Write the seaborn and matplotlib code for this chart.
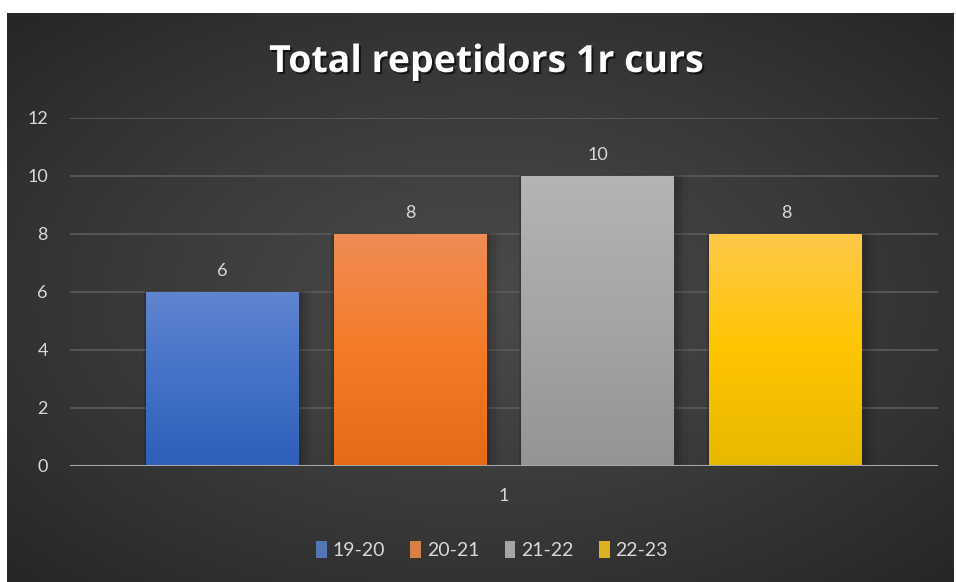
import numpy as np
import pandas as pd
import matplotlib
matplotlib.use('Agg')
import matplotlib.pyplot as plt
import matplotlib.patheffects as pe
from matplotlib.colors import LinearSegmentedColormap
import seaborn as sns

# dades
categoria = ['1']
cursos = ['19-20', '20-21', '21-22', '22-23']
repetidors = [6, 8, 10, 8]
colors = ['#4472c4', '#f07c2a', '#a5a5a5', '#ffc000']
# degradat de cada barra (dalt, mig, baix)
degradats = [
    ['#6185d0', '#4472c8', '#2e5fb9'],
    ['#f08c56', '#f47b27', '#e46b17'],
    ['#b4b4b4', '#a5a5a5', '#949494'],
    ['#ffc84a', '#ffc500', '#e8b800'],
]
titol = 'Total repetidors 1r curs'

df = pd.DataFrame({
    'categoria': categoria * len(cursos),
    'curs': cursos,
    'repetidors': repetidors,
})

sns.set_style('dark')
plt.rcParams['font.family'] = ['Lato', 'DejaVu Sans']

W, H = 956, 582
fig = plt.figure(figsize=(W / 100, H / 100), dpi=100)
fig.patch.set_facecolor('white')

# fons fosc amb degradat radial
bg = fig.add_axes([7 / W, 0, (954 - 7) / W, (H - 13) / H])
bg.set_axis_off()
yy, xx = np.mgrid[0:300, 0:500]
cx, cy = 250, 150
r = np.sqrt(((xx - cx) / 500) ** 2 + ((yy - cy) / 300) ** 2) / 0.7
r = np.clip(r, 0, 1)
v = 0.29 - (0.29 - 0.15) * r ** 1.2
bg.imshow(np.dstack([v, v, v]), aspect='auto', extent=[0, 1, 0, 1])
bg.set_xlim(0, 1)
bg.set_ylim(0, 1)

ax = fig.add_axes([70 / W, 1 - 466 / H, (938 - 70) / W, (466 - 118) / H])
ax.patch.set_alpha(0)

sns.barplot(data=df, x='categoria', y='repetidors', hue='curs',
            palette=colors, width=0.866, gap=0.186, ax=ax, zorder=3)

ax.set_xlim(-0.5, 0.5)
ax.set_ylim(0, 12)
ax.set_yticks(range(0, 13, 2))

# degradat vertical dins de cada barra
for cont, grad in zip(ax.containers, degradats):
    cmap = LinearSegmentedColormap.from_list('g', grad[::-1])
    for p in cont:
        x0, y0 = p.get_x(), p.get_y()
        x1, y1 = x0 + p.get_width(), y0 + p.get_height()
        # ombra suau
        for k, a in enumerate([0.10, 0.07, 0.04]):
            d = 0.004 * (k + 1)
            sh = plt.Rectangle((x0 - d * 0.3, y0), (x1 - x0) + d * 1.6, (y1 - y0) + 0.02 * (k + 1),
                               color='black', alpha=a, zorder=2, lw=0)
            ax.add_patch(sh)
        im = ax.imshow(np.linspace(0, 1, 256).reshape(-1, 1), cmap=cmap, aspect='auto',
                       extent=[x0, x1, y0, y1], origin='lower', zorder=3)
        im.set_clip_path(p)
        p.set_facecolor('none')
        p.set_edgecolor('none')
    ax.bar_label(cont, padding=9, color='#d9d9d9', fontsize=13)

ax.set_xlim(-0.5, 0.5)
ax.set_ylim(0, 12)

ax.yaxis.grid(True, color='#595959', lw=1.3, zorder=0)
ax.xaxis.grid(False)
ax.axhline(0, color='#a8a8a8', lw=2.2, zorder=4)
for s in ax.spines.values():
    s.set_visible(False)
ax.tick_params(axis='both', length=0, labelcolor='#d9d9d9', labelsize=13)
ax.tick_params(axis='y', pad=16)
ax.tick_params(axis='x', pad=16)
ax.set_xlabel('')
ax.set_ylabel('')

sns.move_legend(ax, 'center', bbox_to_anchor=(492 / W, 1 - 550 / H),
                bbox_transform=fig.transFigure, ncol=4, frameon=False, title=None,
                fontsize=14, labelcolor='#d9d9d9', handlelength=0.55, handleheight=1.0,
                handletextpad=0.3, columnspacing=1.3)
for h in ax.get_legend().legend_handles:
    h.set_edgecolor('none')

fig.text(486 / W, 1 - 62 / H, titol, ha='center', va='center', color='white',
         fontsize=27, fontweight='bold', fontfamily=['Open Sans', 'DejaVu Sans'],
         path_effects=[pe.withSimplePatchShadow(offset=(1.5, -1.5), shadow_rgbFace='black', alpha=0.6)])

fig.savefig('out.png', dpi=100, facecolor=fig.get_facecolor())
